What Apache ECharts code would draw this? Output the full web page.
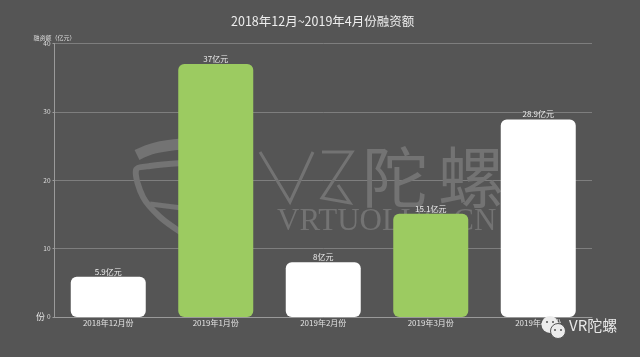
<!DOCTYPE html>
<html>
<head>
<meta charset="utf-8">
<title>融资额</title>
<style>html,body{margin:0;padding:0;background:#555555}</style>
<script src="https://cdn.jsdelivr.net/npm/echarts@6/dist/echarts.min.js"></script>
</head>
<body>
<div id="main" style="width:640px;height:357px"></div>
<script>
var months = ['2018年12月份', '2019年1月份', '2019年2月份', '2019年3月份', '2019年4月份'];
var amounts = [5.9, 37, 8, 15.1, 28.9];
var greenMonths = ['2019年1月份', '2019年3月份'];
var yTicks = [0, 10, 20, 30, 40];

var font = '"Noto Sans CJK SC", "Noto Sans", sans-serif';
var mark = '#737373';

var myChart = echarts.init(document.getElementById('main'));
var option = {
  animation: false,
  backgroundColor: '#555555',
  textStyle: { fontFamily: font },
  title: {
    text: '2018年12月~2019年4月份融资额',
    left: 226,
    top: 10,
    textStyle: { color: '#eeeeee', fontSize: 12.5, fontWeight: 'normal', fontFamily: font }
  },
  grid: { left: 54.5, right: 48, top: 43.5, bottom: 40 },
  xAxis: {
    type: 'category',
    data: months,
    axisLine: { lineStyle: { color: '#9a9a9a', width: 1 } },
    axisTick: { show: false },
    axisLabel: { color: '#e2e2e2', fontSize: 8, margin: 2 }
  },
  yAxis: {
    type: 'value',
    min: yTicks[0],
    max: yTicks[yTicks.length - 1],
    interval: yTicks[1] - yTicks[0],
    name: '融资额（亿元）',
    nameLocation: 'end',
    nameGap: 3,
    nameTextStyle: { color: '#dddddd', fontSize: 6, align: 'center' },
    axisLine: { show: true, lineStyle: { color: '#9a9a9a', width: 1 } },
    axisTick: { show: true, length: 2, lineStyle: { color: '#9a9a9a' } },
    axisLabel: { color: '#dddddd', fontSize: 6.5, margin: 4 },
    splitLine: { lineStyle: { color: '#7e7e7e', width: 1 } }
  },
  series: [{
    type: 'bar',
    data: amounts,
    barWidth: 75,
    z: 3,
    itemStyle: {
      borderRadius: 6,
      color: function (p) {
        return greenMonths.indexOf(p.name) >= 0 ? '#9ccb61' : '#ffffff';
      }
    },
    label: {
      show: true,
      position: 'top',
      distance: 1,
      color: '#ededed',
      fontSize: 8,
      formatter: function (p) { return p.value + '亿元'; }
    }
  }],
  graphic: [
    // watermark
    { type: 'polyline', z: 1, shape: { points: [[260, 152], [290, 202], [313, 152]] }, style: { fill: 'none', stroke: mark, lineWidth: 3 } },
    { type: 'polyline', z: 1, shape: { points: [[322, 152], [352, 152], [322, 198], [350, 203], [338, 185]] }, style: { fill: 'none', stroke: mark, lineWidth: 3 } },
    { type: 'text', z: 1, left: 362, top: 144, style: { text: '陀', fill: mark, fontSize: 66, fontFamily: font } },
    { type: 'text', z: 1, left: 438, top: 144, style: { text: '螺', fill: mark, fontSize: 66, fontFamily: font } },
    { type: 'text', z: 1, left: 277, top: 206, style: { text: 'VRTUOLUO.CN', fill: mark, fontSize: 31, fontFamily: '"Liberation Serif", serif' } },
    { type: 'polyline', z: 1, shape: { points: [[137, 155], [155, 148], [182, 144]], smooth: 0.4 }, style: { fill: 'none', stroke: mark, lineWidth: 11 } },
    { type: 'polyline', z: 1, shape: { points: [[182, 163], [150, 166], [136, 170], [143, 197], [160, 217], [182, 233]], smooth: 0.3 }, style: { fill: 'none', stroke: mark, lineWidth: 6 } },
    { type: 'polyline', z: 1, shape: { points: [[150, 204], [182, 208]] }, style: { fill: 'none', stroke: mark, lineWidth: 5 } },
    // wechat tag
    { type: 'circle', z: 10, shape: { cx: 550, cy: 324.5, r: 8.5 }, style: { fill: '#ececec' } },
    { type: 'circle', z: 11, shape: { cx: 558, cy: 331, r: 7.5 }, style: { fill: '#ececec', stroke: '#555555', lineWidth: 1 } },
    { type: 'circle', z: 12, shape: { cx: 547, cy: 322, r: 1 }, style: { fill: '#555555' } },
    { type: 'circle', z: 12, shape: { cx: 553, cy: 322, r: 1 }, style: { fill: '#555555' } },
    { type: 'circle', z: 12, shape: { cx: 555, cy: 330, r: 1 }, style: { fill: '#555555' } },
    { type: 'circle', z: 12, shape: { cx: 561, cy: 330, r: 1 }, style: { fill: '#555555' } },
    { type: 'text', z: 12, left: 569, top: 318, style: { text: 'VR陀螺', fill: '#e8e8e8', fontSize: 15, fontFamily: font } },
    // stray character left of the zero tick
    { type: 'text', z: 5, left: 36, top: 312, style: { text: '份', fill: '#e6e6e6', fontSize: 9, fontFamily: font } }
  ]
};
option && myChart.setOption(option);
</script>
</body>
</html>
